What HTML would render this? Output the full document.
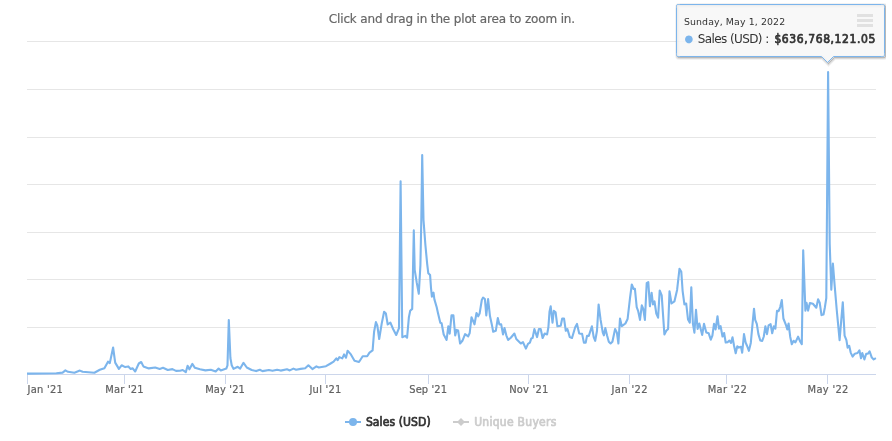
<!DOCTYPE html>
<html lang="en">
<head>
<meta charset="utf-8">
<title>Sales (USD) chart</title>
<style>
html,body{margin:0;padding:0;background:#fff;}
body{width:892px;height:441px;overflow:hidden;font-family:'DejaVu Sans','Liberation Sans',sans-serif;}
svg{display:block;}
svg text{font-family:'DejaVu Sans','Liberation Sans',sans-serif;}
.fb{paint-order:stroke;stroke-width:0.7px;stroke-linejoin:round;}
.rg{paint-order:stroke;stroke-width:0.2px;stroke-linejoin:round;}
svg .cd, svg .cd text{font-family:'DejaVu Sans Condensed','DejaVu Sans','Liberation Sans',sans-serif;}
</style>
</head>
<body>
<svg width="892" height="441" viewBox="0 0 892 441">
<rect x="0" y="0" width="892" height="441" fill="#ffffff"/>
<g class="grid">
<path d="M27 41.5 H876" stroke="#e6e6e6" stroke-width="1" fill="none"/>
<path d="M27 89.5 H876" stroke="#e6e6e6" stroke-width="1" fill="none"/>
<path d="M27 137.5 H876" stroke="#e6e6e6" stroke-width="1" fill="none"/>
<path d="M27 184.5 H876" stroke="#e6e6e6" stroke-width="1" fill="none"/>
<path d="M27 232.5 H876" stroke="#e6e6e6" stroke-width="1" fill="none"/>
<path d="M27 279.5 H876" stroke="#e6e6e6" stroke-width="1" fill="none"/>
<path d="M27 327.5 H876" stroke="#e6e6e6" stroke-width="1" fill="none"/>
</g>
<g class="axis">
<path d="M27 374.5 H876" stroke="#ccd6eb" stroke-width="1" fill="none"/>
<path d="M27.5 374 V384" stroke="#ccd6eb" stroke-width="1" fill="none"/>
<path d="M124.5 374 V384" stroke="#ccd6eb" stroke-width="1" fill="none"/>
<path d="M225.5 374 V384" stroke="#ccd6eb" stroke-width="1" fill="none"/>
<path d="M325.5 374 V384" stroke="#ccd6eb" stroke-width="1" fill="none"/>
<path d="M428.5 374 V384" stroke="#ccd6eb" stroke-width="1" fill="none"/>
<path d="M528.5 374 V384" stroke="#ccd6eb" stroke-width="1" fill="none"/>
<path d="M629.5 374 V384" stroke="#ccd6eb" stroke-width="1" fill="none"/>
<path d="M726.5 374 V384" stroke="#ccd6eb" stroke-width="1" fill="none"/>
<path d="M827.5 374 V384" stroke="#ccd6eb" stroke-width="1" fill="none"/>
</g>
<text x="328.8" y="22.8" textLength="246.3" lengthAdjust="spacing" class="rg" style="font-size:12px;fill:#666666;stroke:#666666">Click and drag in the plot area to zoom in.</text>
<g class="series">
<path d="M27 373.6 L56.3 373.2 L62.6 372.6 L65.4 370.4 L68 371.8 L74.4 372.7 L79.9 370.6 L82.6 371.8 L94.4 372.7 L99.8 369.8 L104.4 368.2 L108 361.7 L109.8 363.1 L113.1 347.5 L115.2 362.6 L118.9 368.9 L121.6 365.3 L125.2 367.1 L128.3 366.4 L130.7 368.9 L132.5 368.2 L135.2 371.5 L138.8 363.5 L141.2 362 L143.4 366.4 L148.8 368.4 L155.2 367.5 L159.7 368.9 L163 367.8 L167.8 370 L172.4 369.1 L176 370.9 L180 370.7 L182.7 370 L185.8 372.2 L187.6 365.7 L189.4 369.3 L192.3 363.9 L194.9 367.8 L200 369.3 L205.4 370.4 L210.8 369.7 L215.7 371.5 L218.6 368.6 L220.8 370.4 L226.3 368.6 L227.5 365.3 L228.8 320 L230.4 358 L231.7 365.3 L233.5 368.9 L237.7 366.8 L240.2 368.6 L243.5 362.8 L246.8 367.5 L251.7 370 L256.2 371.1 L259.8 369.7 L262.5 371.1 L268.9 370 L272.5 370.7 L277.1 369.7 L280.7 370.6 L287 369.3 L289.8 370.4 L293.4 368.6 L296.1 369.8 L300.6 368.9 L305.2 368.2 L308.4 365.3 L312.4 369.1 L316.4 366.4 L318.8 367.5 L326 366.2 L330.6 363.5 L333.6 361.7 L336.3 358.4 L337.6 360.2 L339.4 357.1 L342.3 358.4 L344.1 354.4 L346 357.7 L347.6 350.8 L350.9 354.4 L354.5 360.8 L359 362 L362.7 356.2 L367.2 356.2 L369.5 352.6 L372.6 350.4 L374.1 331.7 L375.9 322.1 L377.3 325.4 L379.2 339 L381.7 323.6 L384.1 311.8 L385.9 313.6 L387.7 324.5 L390.4 322.7 L393.1 329 L396.2 335 L399 328.1 L400.6 181.3 L402.3 337.2 L405.3 335.9 L407.1 337.7 L408.9 317.2 L410.2 310.7 L412.2 308.9 L413.8 230.4 L414.7 269.9 L416.7 282.4 L418.8 293.7 L420.4 265.4 L421.3 220 L422.2 155 L423.5 220 L425.4 245 L427.2 264.2 L428.3 273.3 L430.1 275.1 L431 288 L431.9 296.6 L433.5 292.6 L434.4 299.4 L436.7 307.3 L437.9 312.7 L440.3 322.7 L441.6 323.2 L443.7 334.5 L446.6 339.9 L448.3 326.3 L449.7 333.6 L451.5 315.4 L453.4 315.4 L455.2 335.4 L456.6 329.9 L458.1 330.5 L460.1 343.5 L462.4 340.8 L465.1 334.1 L468.2 336.3 L469.7 333 L471.5 317.2 L474.5 324.4 L476.5 313 L478.2 316.3 L479.6 313.6 L481.8 300 L483.1 297.6 L484.9 299 L486.3 315.4 L488.1 299 L490 316.3 L491.8 324.4 L493.2 331.7 L495.8 330.8 L497.8 318.1 L499.4 324.4 L501.2 324.4 L503 334.4 L504.5 328.1 L506.3 335.3 L508.1 339.9 L510.8 337.7 L514.4 333.5 L516.3 339 L520.8 343.5 L523 342.2 L525.9 348.6 L528 343.9 L529.9 342.6 L531.3 338.4 L532.6 338 L534.4 329 L537.1 337.1 L538.9 329 L540.7 329 L542.6 338 L544.7 333.5 L547.1 334.4 L548.4 327.2 L549.5 311.7 L550.7 306.3 L552.5 322.6 L553.8 310.8 L555.6 312.3 L557.4 326.3 L560.7 325.7 L562.2 318.5 L564 318.5 L565.8 330.8 L567.4 329 L569.8 337.1 L572 338 L575.2 327.2 L577 323.9 L579.2 333.5 L582.1 333.9 L583.9 342.6 L585.7 342.6 L587 335.9 L588.8 335.9 L591.9 326.3 L593.7 337.1 L595.2 340.8 L597 330.8 L598.6 304.5 L600.6 319.9 L602.8 332.6 L603.9 335.3 L605.3 328.1 L607 335.3 L608.8 341.7 L610.6 343.5 L612.4 341.7 L615.1 329 L616.9 332.6 L618.4 343.5 L620 318.5 L621.8 326.2 L625.4 323.5 L627.6 319 L630 298.1 L631.8 284.5 L633.6 289 L634.9 288.7 L636.7 307.2 L638.1 310.8 L640 319.9 L641.8 305.4 L643.2 308.6 L644.9 319.9 L646.7 283.2 L648.3 282.1 L649.9 306.3 L651.6 292.7 L653 304.4 L654.5 301.4 L656.3 313.5 L658.1 317.7 L659.7 290.5 L661.7 295.4 L664.4 334.4 L666.3 330.7 L668.1 328.9 L669.5 291.2 L671.5 303.5 L674.4 301.4 L677.1 289.9 L679.5 268.7 L681.3 271.8 L682.6 290.8 L684.4 304.4 L686.2 303.5 L688 319.5 L689.8 322.6 L691.3 287.2 L692.9 323.5 L694.4 332.6 L696 309.9 L697.6 328.9 L699.3 323.5 L702.2 334.9 L704 323.8 L706.3 332.5 L708.7 333.3 L710.8 339.7 L712.4 335.7 L714 323.8 L715.6 329.4 L717.5 316.2 L719 328.6 L720.6 326.2 L722.5 336.5 L724.1 333 L725.7 342.5 L727.8 342.1 L729.4 340.5 L731 342.9 L732.5 337.3 L734.1 346 L735.7 353.2 L737.3 346.3 L738.9 347.6 L741 346.8 L742.2 352.7 L744 334.1 L745.6 342.5 L747.1 346 L748.9 350.8 L750.8 342.9 L752.4 325.4 L754 308.7 L755.2 319.8 L756.8 323.8 L758.4 334.1 L760.3 340.5 L762.2 341 L763.8 336.5 L765.4 326.2 L767 334.1 L768.6 325.4 L770.6 324.1 L772.2 333.3 L773.8 326.2 L775.4 328.6 L777 310.8 L778.6 311.1 L780.2 307.1 L781.8 300 L783.4 318.5 L786.1 325.4 L787.3 329.4 L788.6 323.5 L790.2 336.7 L791.8 344.2 L793.6 340.8 L795.4 342.4 L798.1 336.7 L800 341.2 L801.8 344.2 L803.2 250.3 L805.4 310.6 L806.5 302.7 L808.1 310.6 L809.9 303.1 L812.9 303.8 L816.3 307.7 L818.1 299.3 L819.7 302.7 L821.5 315.1 L823.5 314.5 L824.9 307.2 L826.3 298 L828.1 72 L829.7 244 L831.3 289.6 L832.9 263.5 L834.7 286.2 L836.7 309.5 L839.6 340.1 L841.2 320.8 L842.8 302.2 L844.6 335.6 L846.4 340.1 L847.6 347.6 L849.2 345.8 L850.7 352.6 L852.6 356.6 L854.8 353.7 L857.6 353 L859.4 350.3 L861 358.2 L862.3 353 L864.4 359.4 L866.2 353.7 L868 353.7 L869.6 351.4 L871.8 357.6 L873.7 359.4 L875.9 358.2" fill="none" stroke="#7cb5ec" stroke-width="2.1" stroke-linejoin="round" stroke-linecap="butt"/>
</g>
<g class="xlabels cd rg" style="font-size:11px;fill:#606060;stroke:#606060">
<text x="27.6" y="393" textLength="35.3" lengthAdjust="spacing">Jan &#39;21</text>
<text x="105.3" y="393" textLength="38.3" lengthAdjust="spacing">Mar &#39;21</text>
<text x="205.2" y="393" textLength="39.7" lengthAdjust="spacing">May &#39;21</text>
<text x="309.4" y="393" textLength="32.0" lengthAdjust="spacing">Jul &#39;21</text>
<text x="409.3" y="393" textLength="37.7" lengthAdjust="spacing">Sep &#39;21</text>
<text x="509.2" y="393" textLength="39.0" lengthAdjust="spacing">Nov &#39;21</text>
<text x="611.5" y="393" textLength="36.0" lengthAdjust="spacing">Jan &#39;22</text>
<text x="707.7" y="393" textLength="39.0" lengthAdjust="spacing">Mar &#39;22</text>
<text x="807.6" y="393" textLength="40.7" lengthAdjust="spacing">May &#39;22</text>
</g>
<g class="legend" style="font-size:12px">
<path d="M345 422 H361" stroke="#7cb5ec" stroke-width="2" fill="none"/>
<circle cx="353" cy="422" r="4" fill="#7cb5ec"/>
<text class="fb cd" x="365.9" y="426" textLength="64.7" lengthAdjust="spacing" fill="#333333" stroke="#333333">Sales (USD)</text>
<path d="M453 422 H469" stroke="#cccccc" stroke-width="2" fill="none"/>
<path d="M461 418 L465 422 L461 426 L457 422 Z" fill="#cccccc"/>
<text class="fb cd" x="474.2" y="426" textLength="82.1" lengthAdjust="spacing" fill="#cccccc" stroke="#cccccc">Unique Buyers</text>
</g>
<g class="menu">
<path d="M857 15.5 H873 M857 20.5 H873 M857 25.5 H873" stroke="#666666" stroke-width="3" stroke-linecap="butt" fill="none"/>
</g>
<clipPath id="cp"><rect x="0" y="0" width="886" height="441"/></clipPath>
<g class="tooltip" clip-path="url(#cp)">
<path d="M679.5 4.5 L881.5 4.5 C884.5 4.5 884.5 4.5 884.5 7.5 L884.5 53.5 C884.5 56.5 884.5 56.5 881.5 56.5 L833.5 56.5 L827.5 62.5 L821.5 56.5 L679.5 56.5 C676.5 56.5 676.5 56.5 676.5 53.5 L676.5 7.5 C676.5 4.5 676.5 4.5 679.5 4.5 Z" fill="none" stroke="#000000" stroke-opacity="0.05" stroke-width="5" transform="translate(1,1)"/>
<path d="M679.5 4.5 L881.5 4.5 C884.5 4.5 884.5 4.5 884.5 7.5 L884.5 53.5 C884.5 56.5 884.5 56.5 881.5 56.5 L833.5 56.5 L827.5 62.5 L821.5 56.5 L679.5 56.5 C676.5 56.5 676.5 56.5 676.5 53.5 L676.5 7.5 C676.5 4.5 676.5 4.5 679.5 4.5 Z" fill="none" stroke="#000000" stroke-opacity="0.1" stroke-width="3" transform="translate(1,1)"/>
<path d="M679.5 4.5 L881.5 4.5 C884.5 4.5 884.5 4.5 884.5 7.5 L884.5 53.5 C884.5 56.5 884.5 56.5 881.5 56.5 L833.5 56.5 L827.5 62.5 L821.5 56.5 L679.5 56.5 C676.5 56.5 676.5 56.5 676.5 53.5 L676.5 7.5 C676.5 4.5 676.5 4.5 679.5 4.5 Z" fill="none" stroke="#000000" stroke-opacity="0.15" stroke-width="1" transform="translate(1,1)"/>
<path d="M679.5 4.5 L881.5 4.5 C884.5 4.5 884.5 4.5 884.5 7.5 L884.5 53.5 C884.5 56.5 884.5 56.5 881.5 56.5 L833.5 56.5 L827.5 62.5 L821.5 56.5 L679.5 56.5 C676.5 56.5 676.5 56.5 676.5 53.5 L676.5 7.5 C676.5 4.5 676.5 4.5 679.5 4.5 Z" fill="#f7f7f7" fill-opacity="0.85" stroke="#7cb5ec" stroke-width="1"/>
<text x="683.9" y="24.7" textLength="101.2" lengthAdjust="spacing" style="font-size:9.4px;fill:#333333">Sunday, May 1, 2022</text>
<text x="684.5" y="41.8" style="font-size:10px;fill:#7cb5ec">●</text>
<text x="697.7" y="43.2" textLength="71.5" lengthAdjust="spacing" style="font-size:12px;fill:#333333">Sales (USD) :</text>
<text class="fb cd" x="774.4" y="43.2" textLength="100.9" lengthAdjust="spacing" style="font-size:12px;fill:#333333;stroke:#333333">$636,768,121.05</text>
</g>
</svg>
</body>
</html>
